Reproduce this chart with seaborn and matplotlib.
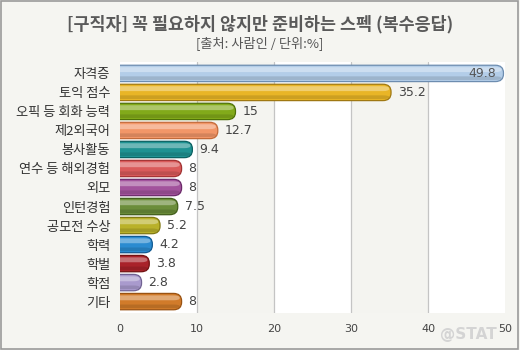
import matplotlib
matplotlib.use("Agg")
import matplotlib.pyplot as plt
from matplotlib.patches import FancyBboxPatch, Rectangle
import seaborn as sns
import pandas as pd

categories = ["자격증", "토익 점수", "오픽 등 회화 능력", "제2외국어", "봉사활동",
              "연수 등 해외경험", "외모", "인턴경험", "공모전 수상", "학력", "학벌", "학점", "기타"]
values = [49.8, 35.2, 15, 12.7, 9.4, 8, 8, 7.5, 5.2, 4.2, 3.8, 2.8, 8]
value_labels = ["49.8", "35.2", "15", "12.7", "9.4", "8", "8", "7.5", "5.2", "4.2", "3.8", "2.8", "8"]
bar_colors = ["#b3cde8", "#e9b526", "#82aa1a", "#f29668", "#1f9292", "#d95a5a", "#a2529c",
              "#6b8d3a", "#b9b12a", "#2b8bd0", "#a9222a", "#a99acd", "#d17b2a"]
edge_colors = ["#6d8db0", "#a07812", "#4f7108", "#c26a3a", "#0c6161", "#a13232", "#6b2a69",
               "#415d1a", "#817912", "#115a92", "#711212", "#716292", "#995212"]
title = "[구직자] 꼭 필요하지 않지만 준비하는 스펙 (복수응답)"
subtitle = "[출처: 사람인 / 단위:%]"
xticks = [0, 10, 20, 30, 40, 50]

sns.set_theme(style="white")
plt.rcParams["font.family"] = ["Noto Sans CJK KR", "DejaVu Sans"]

df = pd.DataFrame({"cat": categories, "val": values})

fig = plt.figure(figsize=(5.2, 3.5), dpi=100, facecolor="#f5f5f1")
ax = fig.add_axes([120 / 520, 1 - 313 / 350, 385 / 520, 251 / 350])
ax.set_facecolor("white")

sns.barplot(data=df, x="val", y="cat", hue="cat", palette=bar_colors, legend=False,
            orient="h", width=0.86, ax=ax, zorder=3)
bars = list(ax.patches)

# alternating bands and grid
for a, b in [(10, 20), (30, 40)]:
    ax.axvspan(a, b, color="#f4f4f0", zorder=0, lw=0)
for t in xticks[1:-1]:
    ax.axvline(t, color="#c4c4c4", lw=0.9, zorder=1)

rx = 1.05
ry_aspect = 0.38
for i, p in enumerate(bars):
    x, y = p.get_x(), p.get_y()
    w, h = p.get_width(), p.get_height()
    p.set_visible(False)
    body = FancyBboxPatch((x - rx, y), w + rx, h,
                          boxstyle=f"round,pad=0,rounding_size={rx}",
                          mutation_aspect=ry_aspect,
                          facecolor=bar_colors[i], edgecolor=edge_colors[i], lw=0.9, zorder=4)
    ax.add_patch(body)
    hl = FancyBboxPatch((x - rx, y + 0.12 * h), w + rx - 0.25, 0.3 * h,
                        boxstyle=f"round,pad=0,rounding_size={rx * 0.8}",
                        mutation_aspect=ry_aspect * 0.35,
                        facecolor="white", edgecolor="none", alpha=0.35, zorder=5)
    ax.add_patch(hl)
    shade = FancyBboxPatch((x - rx, y + 0.68 * h), w + rx - 0.25, 0.22 * h,
                           boxstyle=f"round,pad=0,rounding_size={rx * 0.8}",
                           mutation_aspect=ry_aspect * 0.25,
                           facecolor="black", edgecolor="none", alpha=0.12, zorder=5)
    ax.add_patch(shade)
    if w > 45:
        ax.text(w - 1.0, y + h / 2, value_labels[i], ha="right", va="center",
                fontsize=9, color="#555555", zorder=6, family=["DejaVu Sans"])
    else:
        ax.text(w + 0.9, y + h / 2, value_labels[i], ha="left", va="center",
                fontsize=9, color="#444444", zorder=6, family=["DejaVu Sans"])

ax.set_xlim(0, 50)
ax.set_ylim(12.6, -0.6)
ax.set_xticks(xticks)
ax.set_xticklabels([str(t) for t in xticks], family=["DejaVu Sans"])
ax.tick_params(axis="x", length=0, pad=8, labelsize=8, labelcolor="#444444")
ax.tick_params(axis="y", length=0, pad=7, labelsize=9.5, labelcolor="#333333")
ax.set_xlabel("")
ax.set_ylabel("")
for s in ax.spines.values():
    s.set_visible(False)

fig.text(0.5, 1 - 24 / 350, title, ha="center", va="center", fontsize=12.5,
         fontweight="bold", color="#5a5a5a")
fig.text(0.5, 1 - 43 / 350, subtitle, ha="center", va="center", fontsize=9.5,
         color="#555555")
fig.text(468 / 520, 1 - 335 / 350, "@STAT", ha="center", va="center", fontsize=11,
         fontweight="bold", color="#d4d4d4", family=["DejaVu Sans"], zorder=0)

fig.patches.append(Rectangle((0.002, 0.003), 0.995, 0.994, transform=fig.transFigure,
                             fill=False, edgecolor="#9a9a9a", lw=1.2))

fig.savefig("out.png", dpi=100, facecolor=fig.get_facecolor())
